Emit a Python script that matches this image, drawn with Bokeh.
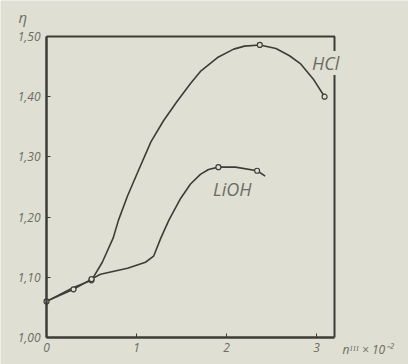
from bokeh.plotting import figure
from bokeh.models import FixedTicker, Label, Range1d
from bokeh.embed import file_html
from bokeh.resources import INLINE

# HCl curve
hcl_x = [0.0, 0.3, 0.5, 0.62, 0.74, 0.8, 0.9, 1.0, 1.16, 1.3, 1.45, 1.6, 1.71, 1.9, 2.08, 2.2, 2.37, 2.55, 2.7, 2.82, 2.97, 3.09]
hcl_y = [1.06, 1.083, 1.095, 1.125, 1.165, 1.195, 1.235, 1.27, 1.325, 1.36, 1.392, 1.422, 1.442, 1.465, 1.479, 1.484, 1.486, 1.48, 1.468, 1.455, 1.428, 1.40]
hcl_px = [0.5, 2.37, 3.09]
hcl_py = [1.095, 1.486, 1.40]

# LiOH curve
lioh_x = [0.0, 0.3, 0.5, 0.6, 0.9, 1.1, 1.19, 1.27, 1.36, 1.49, 1.6, 1.71, 1.8, 1.91, 2.1, 2.34, 2.43]
lioh_y = [1.06, 1.08, 1.097, 1.105, 1.115, 1.125, 1.135, 1.165, 1.195, 1.231, 1.255, 1.271, 1.279, 1.283, 1.283, 1.277, 1.268]
lioh_px = [0.0, 0.3, 0.5, 1.91, 2.34]
lioh_py = [1.06, 1.08, 1.097, 1.283, 1.277]

x_ticks = [0, 1, 2, 3]
y_ticks = [1.0, 1.1, 1.2, 1.3, 1.4, 1.5]
y_labels = ["1,00", "1,10", "1,20", "1,30", "1,40", "1,50"]

X_MIN, X_MAX = 0.0, 3.2
Y_MIN, Y_MAX = 1.0, 1.5

BG = "#dfe0d3"
INK = "#3d3d38"
TXT = "#6c6c64"
FONT = "Open Sans"

W, H = 408, 364
PL, PR, PT, PB = 46, 74, 36, 27  # box margins in pixels
sx = (X_MAX - X_MIN) / (W - PL - PR)
sy = (Y_MAX - Y_MIN) / (H - PT - PB)

p = figure(width=W, height=H, output_backend="svg", toolbar_location=None,
           x_range=Range1d(X_MIN - PL * sx, X_MAX + PR * sx),
           y_range=Range1d(Y_MIN - PB * sy, Y_MAX + PT * sy),
           min_border=0)
p.background_fill_color = BG
p.border_fill_color = BG
p.outline_line_color = None
p.grid.visible = False

for ax in (p.xaxis, p.yaxis):
    ax.axis_line_color = INK
    ax.axis_line_width = 2.5
    ax.major_tick_in = 4
    ax.major_tick_out = 0
    ax.major_tick_line_color = INK
    ax.minor_tick_line_color = None
    ax.major_label_text_font = FONT
    ax.major_label_text_font_style = "italic"
    ax.major_label_text_font_size = "12px"
    ax.major_label_text_color = TXT

p.xaxis.fixed_location = Y_MIN
p.yaxis.fixed_location = X_MIN
p.xaxis.bounds = (X_MIN, X_MAX)
p.yaxis.bounds = (Y_MIN, Y_MAX)
p.xaxis.ticker = FixedTicker(ticks=x_ticks)
p.yaxis.ticker = FixedTicker(ticks=y_ticks)
p.yaxis.major_label_overrides = {t: l for t, l in zip(y_ticks, y_labels)}
p.xaxis.major_label_overrides = {t: str(t) for t in x_ticks}
p.yaxis.major_label_standoff = 6
p.xaxis.major_label_standoff = 5

# top and right sides of the box
p.line([X_MIN, X_MAX, X_MAX], [Y_MAX, Y_MAX, Y_MIN], line_color=INK, line_width=2)

p.line(hcl_x, hcl_y, line_color=INK, line_width=1.6)
p.line(lioh_x, lioh_y, line_color=INK, line_width=1.6)
p.scatter(hcl_px, hcl_py, size=5, fill_color=BG, line_color=INK, line_width=1.2)
p.scatter(lioh_px, lioh_py, size=5, fill_color=BG, line_color=INK, line_width=1.2)

p.add_layout(Label(x=2.95, y=1.436, text="HCl", text_font=FONT, text_font_style="italic",
                   text_font_size="18px", text_color=TXT, background_fill_color=BG))
p.add_layout(Label(x=1.85, y=1.226, text="LiOH", text_font=FONT, text_font_style="italic",
                   text_font_size="18px", text_color=TXT))
p.add_layout(Label(x=-0.31, y=1.516, text="η", text_font=FONT, text_font_style="italic",
                   text_font_size="15px", text_color=TXT))
p.add_layout(Label(x=3.29, y=0.966, text="nᴵᴵᴵ × 10⁻²", text_font=FONT, text_font_style="italic",
                   text_font_size="12px", text_color=TXT))

open("out.html", "w").write(file_html(p, INLINE))
